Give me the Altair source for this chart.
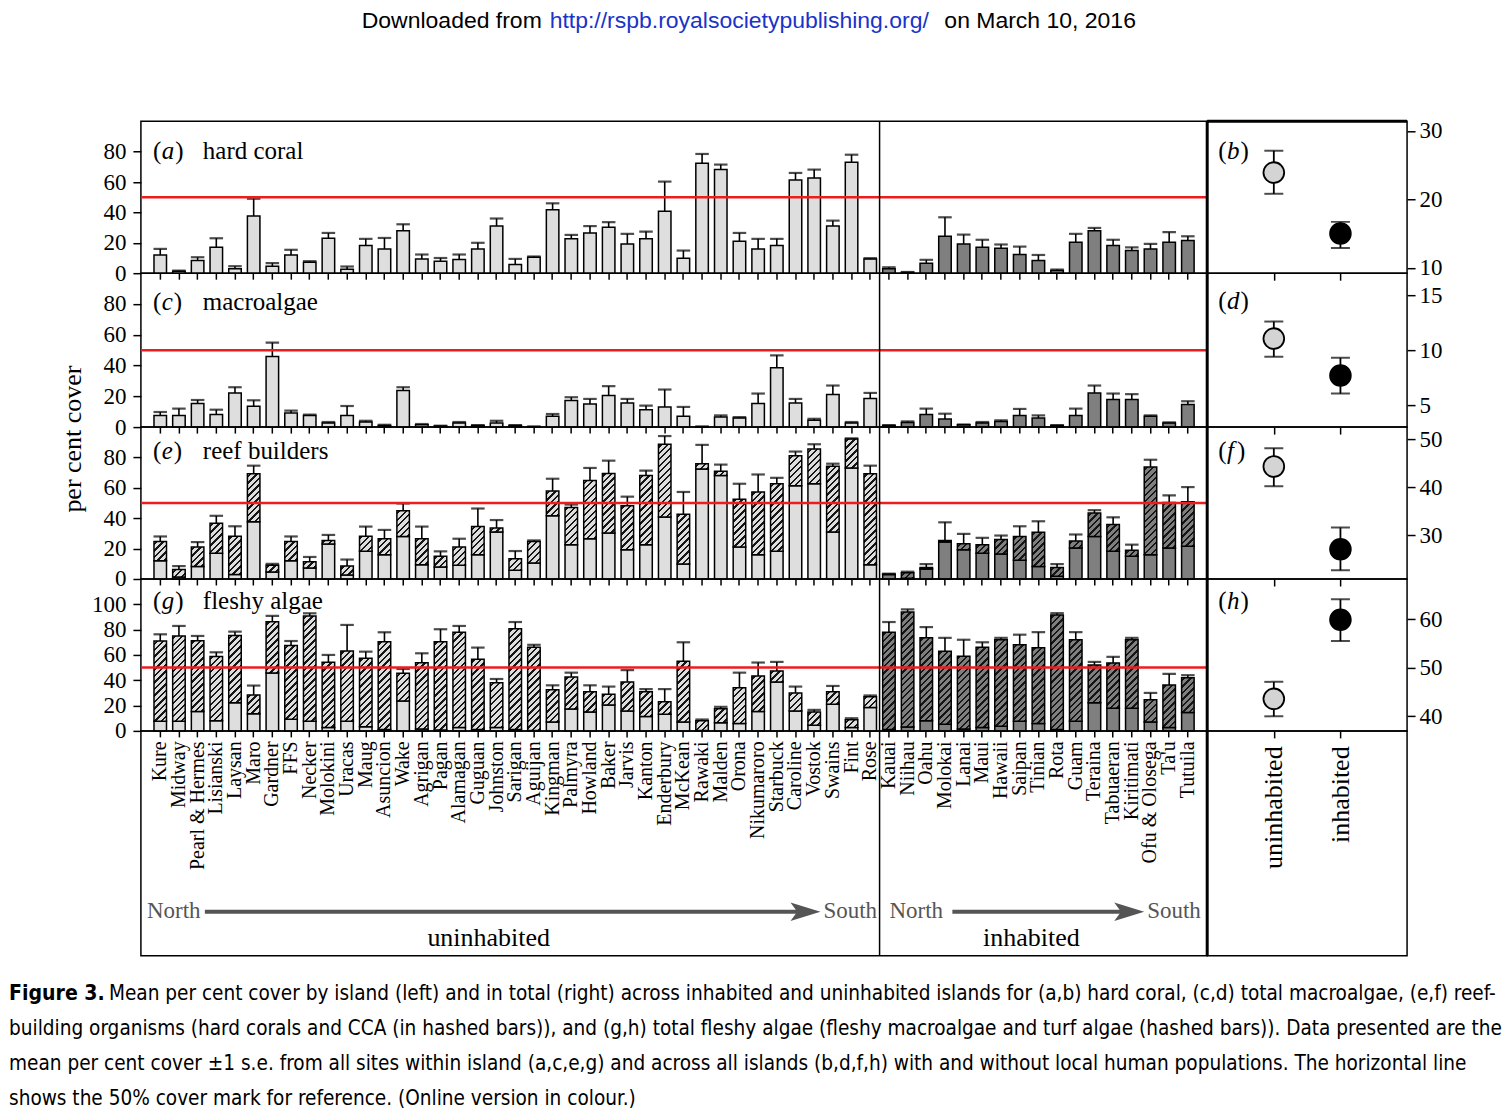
import altair as alt

# ---------------- data ----------------
ISL_U = ["Kure", "Midway", "Pearl & Hermes", "Lisianski", "Laysan", "Maro", "Gardner", "FFS",
         "Necker", "Molokini", "Uracas", "Maug", "Asuncion", "Wake", "Agrigan", "Pagan",
         "Alamagan", "Guguan", "Johnston", "Sarigan", "Aguijan", "Kingman", "Palmyra",
         "Howland", "Baker", "Jarvis", "Kanton", "Enderbury", "McKean", "Rawaki", "Malden",
         "Orona", "Nikumaroro", "Starbuck", "Caroline", "Vostok", "Swains", "Fint", "Rose"]
ISL_I = ["Kauai", "Niihau", "Oahu", "Molokai", "Lanai", "Maui", "Hawaii", "Saipan", "Tinian",
         "Rota", "Guam", "Teraina", "Tabuaeran", "Kiritimati", "Ofu & Olosega", "Ta'u", "Tutuila"]

hard_u = [12, 1.3, 8.3, 17, 3, 37.7, 4.6, 12, 7.2, 23, 2.6, 18.2, 16, 28, 9.4, 7.9, 9, 16, 31,
          5.7, 10.5, 41.7, 22.6, 26.5, 30.3, 19.3, 22.6, 40.8, 9.9, 72.4, 68.2, 21, 16, 18.2,
          61.4, 62.7, 31, 73, 9.4]
hard_u_se = [16, 1.7, 10.5, 23, 4.6, 49, 6.6, 15.4, 7.9, 26.5, 4.4, 22.6, 23.2, 32.2, 12.3, 10,
             12.3, 20, 36, 9.4, 11, 46, 25.2, 31, 33.6, 25.9, 27.4, 60.3, 14.9, 78.5, 71.5, 26.5,
             22.6, 22.6, 66, 68.2, 34.6, 78, 9.9]
hard_i = [2.9, 0.5, 6.6, 24.3, 19.3, 17, 16.4, 12.3, 8.3, 1.8, 20.4, 28, 18.2, 14.9, 16, 20.4, 21.5]
hard_i_se = [3.9, 0.8, 8.8, 36.8, 25.4, 22, 18.9, 17.5, 12, 2.4, 25.9, 29.8, 22, 17, 19.3, 27, 24.3]

macro_u = [7.6, 7.6, 15.3, 8.1, 22.2, 13.5, 45.8, 9.2, 7.6, 2.6, 7.6, 3.3, 1.1, 23.7, 1.5, 0.7,
           2.6, 1.1, 2.6, 1.1, 0.3, 7, 17.2, 15, 20.5, 15.7, 11.3, 13.1, 7, 0.3, 6.5, 5.9, 15.3,
           38.6, 15.7, 4.4, 21.1, 2.6, 18.5]
macro_u_se = [9.8, 12, 17.6, 11.3, 25.9, 17.4, 54.9, 10.7, 8.1, 3.3, 13.7, 4.1, 1.5, 25.9, 2, 0.9,
              3.3, 1.3, 4.1, 1.3, 0.4, 8.5, 19.4, 18.3, 26.6, 18.3, 13.9, 24.4, 13.1, 0.4, 7.6,
              6.5, 21.8, 46.6, 18.3, 5.4, 27, 3.3, 22.2]
macro_i = [1.1, 3, 8.1, 5.2, 1.5, 2.6, 3.7, 7.6, 5.9, 1.1, 7.6, 22.2, 17.9, 17.9, 7, 2.6, 14.6]
macro_i_se = [1.3, 3.7, 12, 8.7, 1.7, 3.3, 4.4, 11.8, 7.6, 1.3, 12, 27, 21.8, 21.4, 7.6, 3, 16.8]

reef_u = [24.7, 6.3, 21, 36.7, 28.2, 69.2, 9.1, 24.7, 11.3, 25.4, 8.5, 28.2, 26.5, 44.9, 26.5,
          15, 21, 34.5, 33.6, 13.4, 24.7, 57.9, 47, 64.9, 69.4, 48.2, 68.1, 88.7, 42.7, 75.9,
          70.9, 52.5, 57.3, 62.7, 81.1, 85.5, 74.2, 92.2, 69.2]
reef_u_se = [28, 8.5, 24.3, 41.6, 34.7, 74.6, 10, 28, 14.5, 29, 12.8, 34.5, 32.3, 49.7, 34.5,
             18.2, 26.5, 46.4, 38.8, 18.4, 25.4, 66, 49, 73.1, 77.9, 54.2, 71.4, 94.1, 57.3,
             88.3, 75.3, 62.7, 68.8, 66.6, 83.9, 88.7, 75.9, 92.6, 74.6]
reef_i = [3.2, 4.1, 7.6, 25.4, 23.2, 22.6, 26, 28, 30.8, 7.6, 25, 43.4, 35.8, 18.9, 73.8, 50.3, 50.8]
reef_i_se = [3.5, 4.8, 9.8, 37.3, 29.7, 27.1, 28.6, 34.7, 38, 9.8, 29.3, 45.3, 40.6, 22.6, 78.5,
             55.1, 60.5]

fleshy_u = [71, 75, 71.3, 58.7, 75.3, 28.4, 86.3, 67.4, 90.8, 54.2, 63.2, 57.4, 70.5, 45.5, 53.9,
            70.5, 77.9, 56.6, 38, 80.6, 66, 32.4, 42.6, 31, 29, 38.7, 31, 23, 55, 8, 17.4, 34,
            43.4, 47.4, 30, 15, 31, 8.7, 27]
fleshy_u_se = [76.3, 82.9, 75, 62.1, 78.4, 35.8, 90.8, 71, 92.9, 60, 83.7, 62.6, 77.9, 48.9, 61.3,
               80.3, 82.9, 65.8, 41, 86, 68, 36, 46, 36, 35, 48, 33, 33, 70, 9, 19, 46, 54, 54.5,
               35, 16.6, 35.5, 10, 28]
fleshy_i = [78, 94, 73.5, 63, 59, 66, 72, 68, 65.6, 91.6, 72, 52, 53.7, 72, 24.5, 36.3, 42]
fleshy_i_se = [86, 96, 82, 73.5, 72, 70, 73.5, 76, 78, 93, 78, 54.5, 58.5, 73.5, 30, 45, 44]

CATS = ["uninhabited", "inhabited"]
tot_hard = [23.9, 15.0]; tot_hard_lo = [20.8, 12.9]; tot_hard_hi = [27.1, 16.7]
tot_macro = [11.05, 7.7]; tot_macro_lo = [9.4, 6.05]; tot_macro_hi = [12.6, 9.3]
tot_reef = [44.3, 27.1]; tot_reef_lo = [40.2, 22.7]; tot_reef_hi = [48.1, 31.6]
tot_fleshy = [43.6, 59.9]; tot_fleshy_lo = [40.0, 55.5]; tot_fleshy_hi = [47.1, 64.1]

# ---------------- layout / style ----------------
ISLANDS = ISL_U + ISL_I
NU = len(ISL_U)
W_L, W_R = 1067, 200
PI, PO = 0.33, 0.7
STEP = W_L / (len(ISLANDS) - PI + 2 * PO)
BAR_W = STEP * (1 - PI)
C_U, C_I = "#dedede", "#7f7f7f"
INK = "#161616"
SERIF = "Liberation Serif, Times New Roman, serif"
SANS = "Liberation Sans, Arial, sans-serif"
NARROW = "Liberation Sans Narrow, Arial Narrow, DejaVu Sans Condensed, sans-serif"
FRAME = alt.ViewBackground(stroke="black", strokeWidth=1.5, fill="transparent")
NOFRAME = alt.ViewBackground(stroke="transparent", fill="white")
CLEAR = alt.ViewBackground(stroke="transparent", fill="transparent")
one = alt.Data(values=[{"k": 1}])
PERIOD, LW = 6.5, 2.3
LETTER_W = {"a": 12.5, "b": 12.5, "c": 11, "d": 12.5, "e": 11, "f": 9, "g": 12.5, "h": 12.5}


def hatch(h, w, bg):
    """diagonal '/' hatching as a bounding-box linear gradient"""
    if h <= 0.05:
        return bg
    L = w + h
    c = L / (w * w + h * h)
    stops = [{"offset": 0, "color": bg}]
    pos = 2.0
    while pos < L:
        a = round(pos / L, 5)
        b = round(min((pos + LW) / L, 1.0), 5)
        stops += [{"offset": a, "color": bg}, {"offset": a, "color": INK},
                  {"offset": b, "color": INK}, {"offset": b, "color": bg}]
        pos += PERIOD
    stops.append({"offset": 1, "color": bg})
    return {"gradient": "linear", "x1": 0, "y1": 0, "x2": round(c * w, 5),
            "y2": round(c * h, 5), "stops": stops}


def txt(text, x, y, size, font=SERIF, align="left", color="black", angle=None,
        weight="normal", style="normal"):
    kw = dict(text=text, font=font, fontSize=size, align=align, baseline="middle",
              color=color, fontWeight=weight, fontStyle=style)
    if angle is not None:
        kw["angle"] = angle
    return alt.Chart(one).mark_text(**kw).encode(x=alt.value(x), y=alt.value(y))


def tag(letter, x, y):
    """panel tag '(a)' with an italic letter"""
    w = LETTER_W[letter]
    return [txt("(", x, y, 25), txt(letter, x + 8.8, y, 25, style="italic"),
            txt(")", x + 9.8 + w, y, 25)]


def xscale():
    return alt.Scale(domain=ISLANDS, paddingInner=PI, paddingOuter=PO)


def bar_panel(mu, mi, su, si, ymax, height, yvals, letter, name, bu=None, bi=None,
              labels=False, ly=30, extra=()):
    mean = mu + mi
    err = su + si
    base = (bu + bi) if bu is not None else None
    pxu = height / ymax
    recs = []
    for k, isl in enumerate(ISLANDS):
        col = C_U if k < NU else C_I
        m = mean[k]
        b = min(base[k], m) if base is not None else m
        r = {"island": isl, "col": col, "mean": m, "err": err[k], "base": b}
        if base is not None:
            r["grad"] = hatch((m - b) * pxu, BAR_W, col)
        recs.append(r)
    data = alt.Data(values=recs)
    if labels:
        xaxis = alt.Axis(title=None, domain=False, ticks=True, tickSize=6, tickWidth=1.5,
                         tickColor="black", labelAngle=270, labelFont=SERIF, labelFontSize=20,
                         labelColor="black", labelPadding=4, labelOverlap=False, labelLimit=300)
    else:
        xaxis = alt.Axis(title=None, domain=False, ticks=True, tickSize=6, tickWidth=1.5,
                         tickColor="black", labels=False)
    xs = xscale()
    X = alt.X("island:N", scale=xs, axis=xaxis, title=None)
    ys = alt.Scale(domain=[0, ymax], nice=False, zero=True)
    yaxis = alt.Axis(values=yvals, title=None, domain=False, grid=False, tickSize=8,
                     tickWidth=1.5, tickColor="black", labelFont=SERIF, labelFontSize=23,
                     labelColor="black", labelPadding=7)

    def Y(f):
        return alt.Y(f, scale=ys, axis=yaxis, title=None, stack=None)

    ch = alt.Chart(data)
    layers = [ch.mark_bar(stroke="black", strokeWidth=1.5).encode(
        x=X, y=Y("base:Q"), fill=alt.Fill("col:N", scale=None, legend=None))]
    if base is not None:
        layers.append(ch.mark_bar(stroke="black", strokeWidth=1.5, aria=False).encode(
            x=X, y=Y("base:Q"), y2="mean:Q",
            fill=alt.Fill("grad:N", scale=None, legend=None)))
    layers += [
        ch.mark_rule(color="black", strokeWidth=1.6).encode(x=X, y=Y("mean:Q"), y2="err:Q"),
        ch.mark_tick(color="black", thickness=2.2, size=BAR_W + 1).encode(x=X, y=Y("err:Q")),
        alt.Chart(one).mark_rule(color="#ee1c1c", strokeWidth=2.5).encode(
            y=alt.Y(datum=50, type="quantitative", scale=ys, axis=yaxis, title=None)),
        alt.Chart(one).mark_rule(color="black", strokeWidth=1.5, xOffset=-STEP / 2).encode(
            x=alt.X(datum="Kauai", type="nominal", scale=xs, axis=xaxis, title=None)),
        txt(name, 62, ly, 25),
    ]
    layers += tag(letter, 12, ly)
    layers += list(extra)
    return alt.layer(*layers).properties(width=W_L, height=height, view=FRAME)


def pt_panel(v, lo, hi, dom, yvals, letter, height, labels=False, ly=30, top=False):
    recs = [{"cat": CATS[k], "v": v[k], "lo": lo[k], "hi": hi[k],
             "col": ["#d4d4d4", "#000000"][k]} for k in range(2)]
    data = alt.Data(values=recs)
    if labels:
        xaxis = alt.Axis(title=None, domain=False, tickSize=7, tickWidth=1.5, tickColor="black",
                         labelAngle=270, labelFont=SERIF, labelFontSize=26, labelColor="black",
                         labelPadding=8)
    else:
        xaxis = alt.Axis(title=None, domain=False, tickSize=7, tickWidth=1.5, tickColor="black",
                         labels=False)
    sc = alt.Scale(type="point", domain=CATS, padding=1)
    X = alt.X("cat:N", scale=sc, axis=xaxis, title=None)
    ys = alt.Scale(domain=dom, nice=False, zero=False)
    yaxis = alt.Axis(values=yvals, orient="right", title=None, domain=False, grid=False,
                     tickSize=8, tickWidth=1.5, tickColor="black", labelFont=SERIF,
                     labelFontSize=23, labelColor="black", labelPadding=4)

    def Y(f):
        return alt.Y(f, scale=ys, axis=yaxis, title=None)

    ch = alt.Chart(data)
    layers = [
        ch.mark_rule(color="black", strokeWidth=1.8).encode(x=X, y=Y("lo:Q"), y2="hi:Q"),
        ch.mark_tick(color="black", thickness=2, size=19).encode(x=X, y=Y("lo:Q")),
        ch.mark_tick(color="black", thickness=2, size=19).encode(x=X, y=Y("hi:Q")),
        ch.mark_point(shape="circle", filled=True, size=430, stroke="black", strokeWidth=1.8,
                      opacity=1).encode(x=X, y=Y("v:Q"),
                                        fill=alt.Fill("col:N", scale=None, legend=None)),
        # heavier left border separating the totals column
        alt.Chart(one).mark_rule(color="black", strokeWidth=3).encode(
            x=alt.value(0), y=alt.value(0), y2=alt.value(height)),
    ]
    if top:
        layers.append(alt.Chart(one).mark_rule(color="black", strokeWidth=3).encode(
            x=alt.value(0), x2=alt.value(W_R), y=alt.value(0)))
    layers += tag(letter, 11, ly)
    return alt.layer(*layers).properties(width=W_R, height=height, view=FRAME)


def blank(w, h, frame, lines=()):
    layers = [txt(" ", 5, 5, 10)] + list(lines)
    return alt.layer(*layers).properties(width=w, height=h, view=frame)


# ---------------- panels ----------------
pA = bar_panel(hard_u, hard_i, hard_u_se, hard_i_se, 100, 152, [0, 20, 40, 60, 80], "a",
               "hard coral", ly=30)
pB = pt_panel(tot_hard, tot_hard_lo, tot_hard_hi, [9.2, 31.4], [10, 20, 30], "b", 152, ly=30,
              top=True)
pC = bar_panel(macro_u, macro_i, macro_u_se, macro_i_se, 100, 154, [0, 20, 40, 60, 80], "c",
               "macroalgae", ly=29)
pD = pt_panel(tot_macro, tot_macro_lo, tot_macro_hi, [3.0, 17.0], [5, 10, 15], "d", 154, ly=28)
pE = bar_panel(reef_u, reef_i, reef_u_se, reef_i_se, 100, 152, [0, 20, 40, 60, 80], "e",
               "reef builders", bu=hard_u, bi=hard_i, ly=24,
               extra=[txt("per cent cover", -68, 12, 26, angle=270, align="center")])
pF = pt_panel(tot_reef, tot_reef_lo, tot_reef_hi, [20.9, 52.5], [30, 40, 50], "f", 152, ly=24)
pG = bar_panel(fleshy_u, fleshy_i, fleshy_u_se, fleshy_i_se, 120, 152,
               [0, 20, 40, 60, 80, 100], "g", "fleshy algae", bu=macro_u, bi=macro_i,
               labels=True, ly=22)
pH = pt_panel(tot_fleshy, tot_fleshy_lo, tot_fleshy_hi, [37.0, 68.3], [40, 50, 60], "h", 152,
              labels=True, ly=22)

ARROW = "M -1 -0.62 L 1 0 L -1 0.62 L -0.55 0 Z"
GREY = "#555555"
label_left = alt.layer(
    alt.Chart(one).mark_rule(color="black", strokeWidth=1.5, xOffset=-STEP / 2).encode(
        x=alt.X(datum="Kauai", type="nominal", scale=xscale(), axis=None)),
    alt.Chart(one).mark_rule(color=GREY, strokeWidth=4).encode(
        x=alt.value(64), x2=alt.value(660), y=alt.value(181)),
    alt.Chart(one).mark_point(shape=ARROW, filled=True, size=900, color=GREY, opacity=1).encode(
        x=alt.value(665), y=alt.value(181)),
    alt.Chart(one).mark_rule(color=GREY, strokeWidth=4).encode(
        x=alt.value(812), x2=alt.value(985), y=alt.value(181)),
    alt.Chart(one).mark_point(shape=ARROW, filled=True, size=900, color=GREY, opacity=1).encode(
        x=alt.value(989), y=alt.value(181)),
    txt("North", 6, 180, 23, color=GREY),
    txt("South", 683, 180, 23, color=GREY),
    txt("North", 749, 180, 23, color=GREY),
    txt("South", 1007, 180, 23, color=GREY),
    txt("uninhabited", 348, 207, 26, align="center"),
    txt("inhabited", 891, 207, 26, align="center"),
).properties(width=W_L, height=225, view=FRAME)
label_right = blank(W_R, 225, FRAME, lines=[
    alt.Chart(one).mark_rule(color="black", strokeWidth=3).encode(
        x=alt.value(0), y=alt.value(0), y2=alt.value(225))])

header = alt.layer(
    txt("Downloaded from", 221, 12, 23, font=SANS),
    txt("http://rspb.royalsocietypublishing.org/", 409, 12, 23, font=SANS, color="#1a33c8"),
    txt("on March 10, 2016", 804, 12, 23, font=SANS),
).properties(width=W_L, height=112, view=NOFRAME)

CAP = [
    "Mean per cent cover by island (left) and in total (right) across inhabited and uninhabited islands for (a,b) hard coral, (c,d) total macroalgae, (e,f) reef-",
    "building organisms (hard corals and CCA (in hashed bars)), and (g,h) total fleshy algae (fleshy macroalgae and turf algae (hashed bars)). Data presented are the",
    "mean per cent cover \u00b11 s.e. from all sites within island (a,c,e,g) and across all islands (b,d,f,h) with and without local human populations. The horizontal line",
    "shows the 50% cover mark for reference. (Online version in colour.)",
]
CS = 20.6
caption = alt.layer(
    txt("Figure 3.", -132, 38, CS + 0.5, font=NARROW, weight="bold"),
    txt(CAP[0], -32, 38, CS, font=NARROW),
    txt(CAP[1], -132, 73, CS, font=NARROW),
    txt(CAP[2], -132, 108, CS, font=NARROW),
    txt(CAP[3], -132, 143, CS, font=NARROW),
).properties(width=W_L, height=157, view=CLEAR)

chart = alt.concat(
    header, blank(W_R, 112, CLEAR),
    pA, pB, pC, pD, pE, pF, pG, pH,
    label_left, label_right,
    caption, blank(W_R, 157, CLEAR),
    columns=2, spacing=0, bounds="flush", align="each",
).properties(padding=0).configure(background="white").configure_view(stroke="transparent")

chart.save("out.html", embed_options={"renderer": "svg", "actions": False})
